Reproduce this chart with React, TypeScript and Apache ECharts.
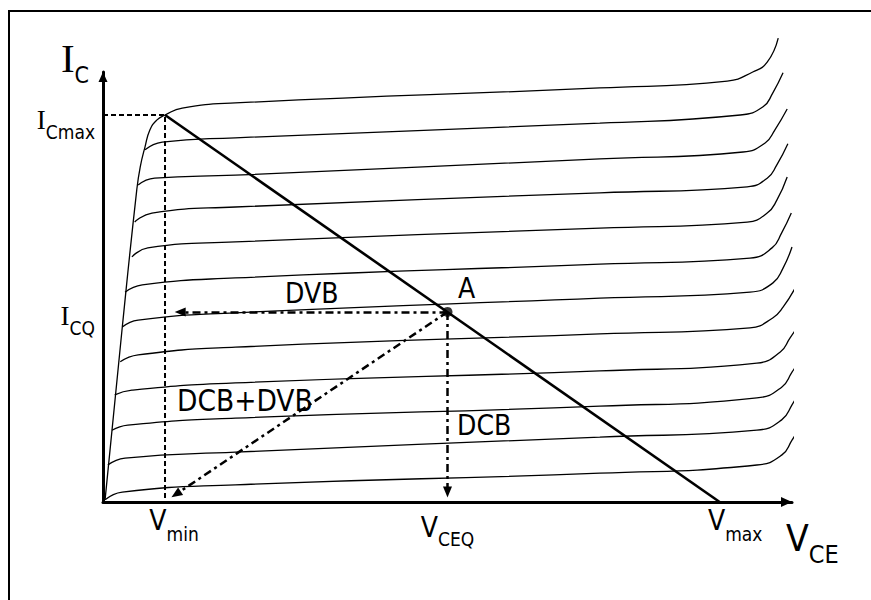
import React, { useEffect, useRef } from 'react';
import * as echarts from 'echarts';

// Output characteristics (V_CE in arbitrary units 0..10, I_C in arbitrary units 0..10)
const curveTop = [[0.03,0.05],[0.28,4.07],[0.49,7.26],[0.54,7.79],[0.61,8.26],[0.68,8.65],[0.78,8.88],[0.90,9.00],[1.15,9.16],[1.92,9.28],[7.21,9.63],[9.06,9.79],[9.43,10.0],[9.64,10.23],[9.80,10.79]];
const curve2 = [[0.61,8.19],[0.86,8.37],[1.92,8.47],[7.21,8.81],[9.25,9.0],[9.58,9.19],[9.72,9.51],[9.87,9.98]];
const curve3 = [[0.51,7.37],[0.75,7.53],[1.92,7.60],[7.21,7.98],[9.29,8.14],[9.61,8.35],[9.75,8.65],[9.93,9.14]];
const curve4 = [[0.46,6.51],[0.71,6.72],[1.92,6.86],[7.21,7.19],[9.35,7.33],[9.64,7.53],[9.78,7.84],[9.94,8.33]];
const curve5 = [[0.42,5.70],[0.65,5.91],[1.92,6.05],[7.21,6.37],[9.35,6.51],[9.64,6.72],[9.78,7.02],[9.93,7.56]];
const curve6 = [[0.32,4.88],[0.57,5.05],[1.92,5.21],[7.21,5.53],[9.39,5.67],[9.71,5.91],[9.85,6.26],[9.99,6.72]];
const curve7 = [[0.28,4.07],[0.51,4.23],[1.92,4.40],[7.21,4.74],[9.39,4.88],[9.72,5.09],[9.87,5.44],[10.0,5.93]];
const curve8 = [[0.25,3.26],[0.51,3.42],[1.92,3.60],[7.21,3.91],[9.39,4.05],[9.72,4.28],[9.87,4.53],[10.07,5.05]];
const curve9 = [[0.17,2.49],[0.42,2.60],[1.92,2.77],[7.21,3.05],[9.49,3.23],[9.83,3.49],[9.97,3.81],[10.13,4.19]];
const curve10 = [[0.13,1.67],[0.36,1.79],[1.92,1.95],[7.21,2.23],[9.49,2.42],[9.85,2.67],[10.0,3.02],[10.15,3.40]];
const curve11 = [[0.07,0.86],[0.32,1.02],[1.92,1.16],[7.21,1.51],[9.49,1.67],[9.85,1.91],[10.0,2.26],[10.13,2.65]];
const curve12 = [[0.03,0.05],[0.28,0.23],[1.92,0.40],[7.21,0.67],[9.49,0.86],[9.85,1.09],[10.0,1.44],[10.15,1.84]];
const curves = [curveTop, curve2, curve3, curve4, curve5, curve6, curve7, curve8, curve9, curve10, curve11, curve12];

const vMin = 0.9;
const vMax = 8.95;
const icMax = 9.0;
const vCEQ = 5.0;
const iCQ = 4.42;
const qPoint = [vCEQ, iCQ];
const loadLine = [[vMin, icMax], [vMax, 0]];
const dvbEnd = [1.12, iCQ];
const dcbEnd = [vCEQ, 0.23];
const dcbDvbEnd = [1.06, 0.18];

const xTickValues = [vMin, vCEQ, vMax];
const xTickLabels = ['{v1|V}{s|min}', '{vq|V}{sq|CEQ}', '{vm|V}{s|max}'];
const yTickValues = [iCQ, icMax];
const yTickLabels = ['{i|I}{s|CQ}', '{i|I}{s|Cmax}'];
const annotations = ['A', 'DVB', 'DCB', 'DCB+DVB'];

const SANS = "'DejaVu Sans Condensed', 'DejaVu Sans', sans-serif";
const SERIF = "'Liberation Serif', 'DejaVu Serif', serif";

function pick(values: number[], labels: string[], v: number) {
  const i = values.findIndex((x) => Math.abs(x - v) < 1e-6);
  return i >= 0 ? labels[i] : '';
}

export default function App() {
  const ref = useRef<HTMLDivElement>(null);
  useEffect(() => {
    if (!ref.current) return;
    const chart = echarts.init(ref.current, undefined, { renderer: 'svg' });
    const black = '#000';
    const curveSeries = curves.map((c, k) => ({
      type: 'line',
      name: 'Ib' + (k + 1),
      data: c,
      smooth: 0.5,
      symbol: 'none',
      clip: false,
      silent: true,
      lineStyle: { color: black, width: 1.3 },
      z: 2,
    }));
    const big = (size: number, lh: number, pad = 0, left = 0, fam = SANS) => ({
      fontFamily: fam, fontSize: size, lineHeight: lh, verticalAlign: 'top', color: black, padding: [pad, 0, 0, left],
    });
    const annot = (text: string, x: number, y: number, size = 28) => ({
      type: 'text', x, y, z: 100,
      style: { text, font: `${size}px ${SANS}`, fill: black, align: 'left', verticalAlign: 'middle' },
    });
    const option: any = {
      animation: false,
      backgroundColor: '#fff',
      grid: { left: 103, right: 79, top: 72, bottom: 98 },
      xAxis: {
        type: 'value',
        min: 0,
        max: 10,
        name: '{v|V}{s|CE}',
        nameLocation: 'end',
        nameGap: -6,
        nameTextStyle: {
          align: 'left',
          verticalAlign: 'top',
          padding: [18, 0, 0, 0],
          rich: {
            v: big(37, 44),
            s: big(25, 30, 22),
          },
        },
        axisLine: {
          show: true,
          lineStyle: { color: black, width: 3 },
          symbol: ['none', 'triangle'],
          symbolSize: [10, 11],
          symbolOffset: [0, -5.5],
        },
        axisTick: { show: false },
        splitLine: { show: false },
        axisLabel: {
          customValues: xTickValues,
          margin: 4,
          formatter: (v: number) => pick(xTickValues, xTickLabels, v),
          rich: {
            v1: big(28, 34, 0, 18),
            vq: big(28, 34, 7, 0),
            vm: big(28, 34, 0, 31),
            s: big(19, 22, 18),
            sq: big(19, 22, 23),
          },
        },
      },
      yAxis: {
        type: 'value',
        min: 0,
        max: 10,
        name: '{i|I}{s|C}',
        nameLocation: 'end',
        nameGap: -13,
        nameTextStyle: {
          align: 'right',
          verticalAlign: 'bottom',
          padding: [0, 14, 0, 0],
          rich: {
            i: big(41, 48, 0, 0, SERIF),
            s: big(23, 27, 26),
          },
        },
        axisLine: {
          show: true,
          lineStyle: { color: black, width: 3 },
          symbol: ['none', 'triangle'],
          symbolSize: [9, 10],
          symbolOffset: [0, -5],
        },
        axisTick: { show: false },
        splitLine: { show: false },
        axisLabel: {
          customValues: yTickValues,
          margin: 8,
          formatter: (v: number) => pick(yTickValues, yTickLabels, v),
          rich: {
            i: big(27, 32, 7, 0, SERIF),
            s: big(19, 22, 23),
          },
        },
      },
      graphic: [
        {
          type: 'rect',
          shape: { x: 9, y: 11, width: 900, height: 700 },
          style: { fill: 'none', stroke: black, lineWidth: 2 },
          z: 100,
        },
        annot(annotations[0], 458, 288),
        annot(annotations[1], 285, 293),
        annot(annotations[2], 457, 425),
        annot(annotations[3], 177, 401, 29.5),
      ],
      series: [
        ...curveSeries,
        {
          type: 'line',
          name: 'guides',
          data: [[0, icMax], [vMin, icMax], [vMin, 0]],
          symbol: 'none',
          silent: true,
          lineStyle: { color: black, width: 2, type: [5, 3] },
          z: 3,
        },
        {
          type: 'line',
          name: 'load line',
          data: loadLine,
          symbol: 'none',
          silent: true,
          lineStyle: { color: black, width: 2.6 },
          z: 4,
        },
        {
          type: 'scatter',
          name: 'Q',
          data: [qPoint],
          symbol: 'circle',
          symbolSize: 10,
          itemStyle: { color: black },
          silent: true,
          z: 6,
          markLine: {
            silent: true,
            symbol: ['none', 'triangle'],
            symbolSize: [9, 11],
            label: { show: false },
            lineStyle: { color: black, width: 2.5, type: [8, 4, 3, 4] },
            data: [
              [{ coord: qPoint }, { coord: dvbEnd }],
              [{ coord: qPoint }, { coord: dcbEnd }],
              [{ coord: qPoint }, { coord: dcbDvbEnd }],
            ],
          },
        },
      ],
    };
    chart.setOption(option);
    return () => chart.dispose();
  }, []);
  return (
    <div
      ref={ref}
      style={{ position: 'absolute', left: 0, top: 0, width: 871, height: 600, background: '#fff' }}
    />
  );
}
